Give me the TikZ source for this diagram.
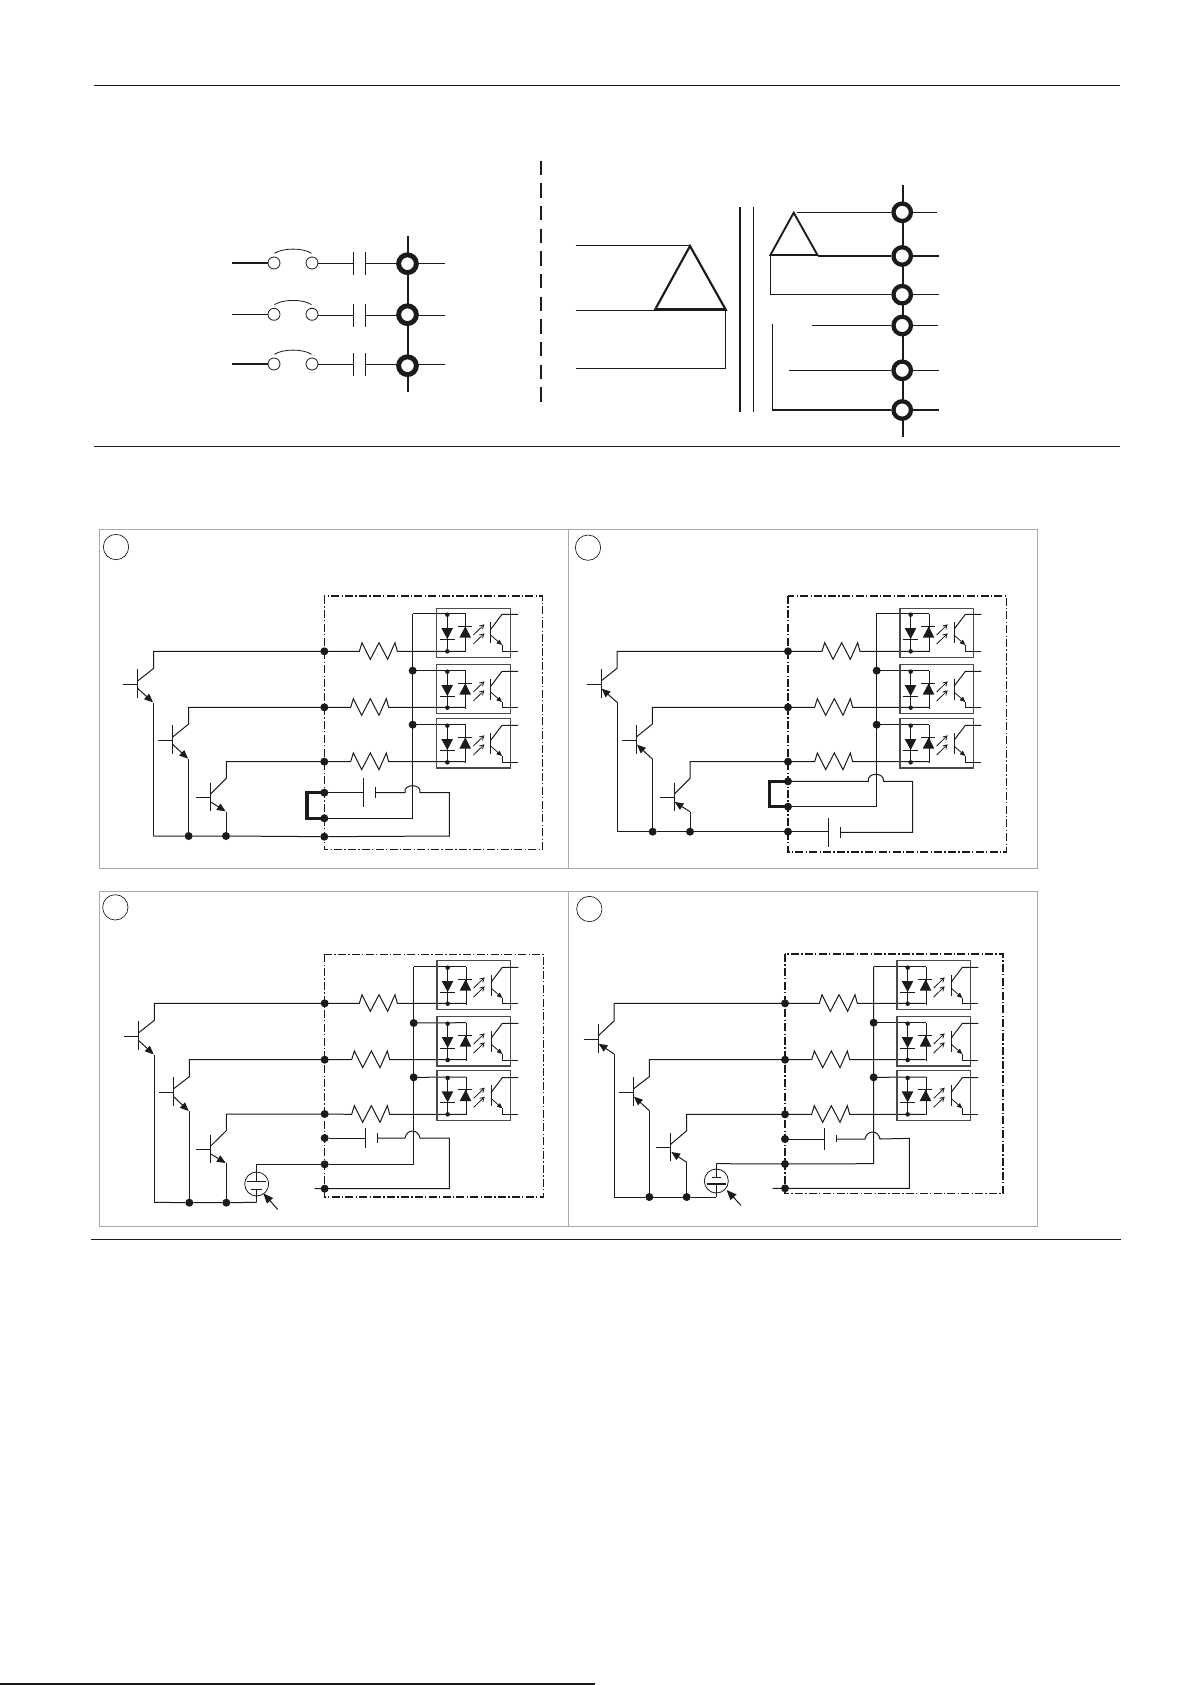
\documentclass[tikz,border=0pt]{standalone}
\usetikzlibrary{arrows.meta}
\definecolor{ink}{HTML}{1C1A1B}
\definecolor{panelgray}{HTML}{ABABAB}
\definecolor{optogray}{HTML}{4A4A4A}
\tikzset{
  wire/.style={draw=ink,line width=0.75pt,line join=miter},
  thin wire/.style={draw=ink,line width=0.6pt},
  thick wire/.style={draw=ink,line width=1.3pt},
  rule/.style={draw=ink,line width=0.85pt},
  ring/.style={circle,draw=ink,fill=white,line width=3.7pt,minimum size=13.3pt,inner sep=0pt},
  ringb/.style={circle,draw=ink,fill=white,line width=3.2pt,minimum size=13.1pt,inner sep=0pt},
  hollow/.style={circle,draw=ink,fill=white,line width=0.6pt,minimum size=9pt,inner sep=0pt},
  jdot/.style={circle,fill=ink,minimum size=6pt,inner sep=0pt,outer sep=0pt},
  sdot/.style={circle,fill=ink,minimum size=3.4pt,inner sep=0pt,outer sep=0pt},
  tag/.style={circle,draw=ink,fill=white,line width=0.5pt,minimum size=19pt,inner sep=0pt},
  panel/.style={draw=panelgray,line width=0.8pt},
  optobox/.style={draw=optogray,line width=0.8pt},
  boundary/.style={draw=ink,line width=0.9pt,dash pattern=on 6pt off 1.7pt on 1pt off 1.7pt},
  etip/.style={-{Triangle[length=6.5pt,width=5.5pt]}},
  otip/.style={-{Triangle[length=4pt,width=3.4pt]}},
  ltip/.style={-{Straight Barb[length=3pt,width=3.5pt]}},
  bigtip/.style={-{Triangle[length=7.5pt,width=6pt]}},
  bracket/.style={draw=ink,line width=2.7pt,line join=miter},
}
% transistor: bar x, base y, collector knee y, emitter knee y, collector dot, emitter target
\newcommand\qframe[5]{%
  \draw[wire] ({#1-43},#2) -- (#1,#2);
  \draw[wire] (#1,{#2-44}) -- (#1,{#2+42});
  \draw[wire] (#1,{#2-9}) -- ({#1+48},#3) |- (#5.center);
}
\newcommand\npnq[6]{%
  \qframe{#1}{#2}{#3}{#4}{#5}
  \draw[wire,etip] (#1,{#2+13}) -- ({#1+46},{#4-1});
  \draw[wire] ({#1+47},#4) |- (#6.center);
}
\newcommand\pnpq[6]{%
  \qframe{#1}{#2}{#3}{#4}{#5}
  \draw[wire,etip] ({#1+48},#4) -- ({#1+2},{#2+14});
  \draw[wire] ({#1+48},#4) |- (#6.center);
}
% resistor row: start dot, zigzag x, y, end x
\newcommand\resist[4]{%
  \draw[wire] (#1.center) -- (#2,#3) -- ++(8,-26) -- ++(25,50) -- ++(26,-50) -- ++(26,50) -- ++(22,-50) -- ++(7,26) -- (#4,#3);
}
% optocoupler: name, dx, top y, height, box top, box bottom, supply node
\newcommand\opto[7]{%
  \draw[wire] (#7.center) -- ({#2+1127},#3);
  \begin{scope}[shift={(#2,#3)}]
    \draw[optobox] (1040,#5) rectangle (1261,#6);
    \node[sdot] (#1a) at (1072,3) {};
    \node[sdot] (#1b) at (1072,#4) {};
    \draw[thin wire] (#1a.center) -- (#1b.center);
    \fill[ink] (1054,43) -- (1089,43) -- (1072,76) -- cycle;
    \draw[thin wire] (1050,76) -- (1094,76);
    \draw[wire] (1127,0) -- (1127,{#4+3});
    \fill[ink] (1108,72) -- (1143,72) -- (1126,38) -- cycle;
    \draw[thin wire] (1104,38) -- (1146,38);
    \draw[thin wire,ltip] (1150,64) -- (1183,32);
    \draw[thin wire,ltip] (1150,91) -- (1183,59);
    \draw[wire] (1202,25) -- (1202,87);
    \draw[wire] (1202,47) -- (1236,2) -- (1284,2);
    \draw[thin wire,otip] (1202,64) -- (1236,94);
    \draw[wire] (1236,94) -- (1236,#4) -- (1284,#4);
  \end{scope}
}
% crossing hump: left end, right end, y
\newcommand\hump[3]{.. controls ({#1+6},{#3-28}) and ({#2-6},{#3-28}) .. (#2,#3)}
% top-left switch row: name, switch y, cap y, style of the feed
\newcommand\swrow[4]{%
  \node[hollow] (#1s) at (274,#2) {};
  \node[hollow] (#1t) at (312,#2) {};
  \coordinate (#1in) at (232,#2);
  \coordinate (#1p) at (353.3,#3);
  \coordinate (#1q) at (365.3,#3);
  \coordinate (#1out) at (444.7,#3);
  \draw[#4] (#1in) -- (#1s);
  \draw[thin wire] (274.5,{#2-9.7}) .. controls (283,{#2-15.3}) and (303,{#2-15.3}) .. (311.5,{#2-9.7});
  \draw[thin wire] (#1t.east |- #1p) -- (#1p);
  \draw[thin wire] (353.3,{#3-11.3}) -- (353.3,{#3+11.3});
  \draw[thin wire] (365.3,{#3-11.3}) -- (365.3,{#3+11.3});
  \draw[thin wire] (#1q) -- (#1out);
}
\begin{document}
\begin{tikzpicture}[x=0.75pt,y=-0.75pt]
\useasboundingbox (0,0) rectangle (1191,1685);
\fill[white] (0,0) rectangle (1191,1685);
% page rules
\coordinate (r1a) at (94,85.3); \coordinate (r1b) at (1120,85.3);
\coordinate (r2a) at (94,446.3); \coordinate (r2b) at (1120,446.3);
\coordinate (r3a) at (91,1239.3); \coordinate (r3b) at (1121,1239.3);
\coordinate (r4a) at (0,1684); \coordinate (r4b) at (595,1684);
\draw[rule] (r1a) -- (r1b);
\draw[rule] (r2a) -- (r2b);
\draw[rule] (r3a) -- (r3b);
\draw[rule,line width=1.2pt] (r4a) -- (r4b);
% --- top-left: switches, capacitors, terminals
\coordinate (lt) at (408,236); \coordinate (lb) at (408,391.7);
\draw[draw=ink,line width=1.35pt] (lt) -- (lb);
\swrow{a}{263}{263.3}{thick wire}
\swrow{b}{314.3}{315.3}{thin wire}
\swrow{c}{364}{364.3}{thick wire}
\node[ring] (L1) at (407.5,263.7) {};
\node[ring] (L2) at (407.5,314.7) {};
\node[ring] (L3) at (407.5,365.7) {};
% --- dashed separator
\coordinate (ds1) at (541,160.7); \coordinate (ds2) at (541,402);
\draw[draw=ink,line width=1.6pt,dash pattern=on 10.7pt off 6.3pt] (ds1) -- (ds2);
% --- top-right: transformer
\coordinate (rt) at (902.6,185.3); \coordinate (rb) at (902.6,437.3);
\draw[draw=ink,line width=1.35pt] (rt) -- (rb);
\coordinate (pa) at (690,246); \coordinate (pl) at (655,309.7); \coordinate (pr) at (725.7,309.7);
\draw[draw=ink,line width=1.6pt,line join=miter] (pa) -- (pl) -- (pr) -- cycle;
\draw[draw=ink,line width=2.2pt] (pl) -- (pr);
\coordinate (pi1) at (575.5,245.6); \coordinate (pi2) at (575.5,310); \coordinate (pi3) at (576,368);
\draw[thin wire] (pi1) -- (pa |- pi1);
\draw[wire] (pi2) -- (pl |- pi2);
\draw[wire] (pr) |- (pi3);
\coordinate (core1a) at (739.9,207.3); \coordinate (core1b) at (739.9,411.7);
\coordinate (core2a) at (753.5,207.3); \coordinate (core2b) at (753.5,411.7);
\draw[draw=ink,line width=1.1pt] (core1a) -- (core1b);
\draw[draw=ink,line width=1.1pt] (core2a) -- (core2b);
\node[ringb] (S1) at (902.2,212.3) {};
\node[ringb] (S2) at (902.2,256) {};
\node[ringb] (S3) at (902.2,294.7) {};
\node[ringb] (S4) at (902.2,325.5) {};
\node[ringb] (S5) at (902.2,370.3) {};
\node[ringb] (S6) at (902.2,410) {};
\coordinate (sa) at (793.7,212.7); \coordinate (sl) at (770.4,255); \coordinate (sr) at (817.5,255);
\draw[draw=ink,line width=1.4pt,line join=miter] (sa) -- (sl) -- (sr) -- cycle;
\draw[thin wire] (796.7,212.3) -- (S1);
\draw[thick wire] (sr |- S2) -- (S2);
\draw[wire] (sl) |- (S3);
\coordinate (s4i) at (811.5,325.5); \coordinate (s5i) at (789,370.3); \coordinate (s6t) at (772.8,324.3);
\draw[thin wire] (s4i) -- (S4);
\draw[thin wire] (s5i) -- (S5);
\draw[wire] (s6t) |- (S6);
\draw[draw=ink,line width=1.1pt] (s6t |- S6) -- (S6);
\coordinate (o1) at (936.5,212.3); \coordinate (o2) at (939.3,256); \coordinate (o3) at (939,294.7);
\coordinate (o4) at (937.7,325.5); \coordinate (o5) at (939,370.3); \coordinate (o6) at (939.3,410);
\draw[thin wire] (S1) -- (o1);
\draw[thick wire] (S2) -- (o2);
\draw[thin wire] (S3) -- (o3);
\draw[thin wire] (S4) -- (o4);
\draw[thin wire] (S5) -- (o5);
\draw[thick wire] (S6) -- (o6);
% --- panel frames
\coordinate (fa) at (99.3,529.7); \coordinate (fb) at (568.3,868.7);
\coordinate (fc) at (1037.3,529.7);
\coordinate (fd) at (99.3,891.7); \coordinate (fe) at (568.3,1226.3); \coordinate (ff) at (1037.3,891.7);
\draw[panel] (fa) rectangle (fb);
\draw[panel] (fb) rectangle (fc);
\draw[panel] (fd) rectangle (fe);
\draw[panel] (fe) rectangle (ff);
%
% ===== Panel A =====
\begin{scope}[x=0.25pt,y=-0.25pt,shift={(270,1560)}]
  \node[tag] (Atag) at (78,81) {};
  \draw[boundary] (703,228) rectangle (1358,989);
  \node[jdot] (A1) at (703,394) {};
  \node[jdot] (A2) at (703,562) {};
  \node[jdot] (A3) at (703,725) {};
  \node[jdot] (A4) at (703,818) {};
  \node[jdot] (A5) at (703,895) {};
  \node[jdot] (A6) at (703,950) {};
  \node[jdot] (At2) at (296,948) {};
  \node[jdot] (At3) at (408,948) {};
  \coordinate (At1) at (190,948);
  \coordinate (Abt) at (968,281);
  \node[jdot] (Ab2) at (968,452) {};
  \node[jdot] (Ab3) at (968,614) {};
  \coordinate (Abb) at (968,895);
  \npnq{143}{492}{445}{548}{A1}{At1}
  \npnq{248}{660}{612}{717}{A2}{At2}
  \npnq{361}{832}{775}{875}{A3}{At3}
  \draw[wire] (At1) -- (At2) -- (At3) -- (A6) -- (1078,948) -- (1078,818) -- (990,818) \hump{990}{945}{818} -- (857,818);
  \draw[wire] (857,800) -- (857,834);
  \draw[wire] (820,775) -- (820,860);
  \draw[wire] (A4) -- (820,818);
  \draw[wire] (A5) -- (Abb) -- (Abt);
  \draw[bracket] (A4.center) -- (651,818) -- (651,895) -- (A5.center);
  \resist{A1}{808}{394}{1127}
  \resist{A2}{782}{562}{1127}
  \resist{A3}{782}{725}{1127}
  \opto{Ao1}{0}{281}{113}{-16}{131}{Abt}
  \opto{Ao2}{0}{452}{111}{-18}{128}{Ab2}
  \opto{Ao3}{0}{614}{113}{-19}{130}{Ab3}
\end{scope}
%
% ===== Panel B =====
\begin{scope}[x=0.25pt,y=-0.25pt,shift={(1680,1560)}]
  \node[tag] (Btag) at (84,83) {};
  \draw[boundary] (684,228) rectangle (1340,996);
  \node[jdot] (B1) at (684,394) {};
  \node[jdot] (B2) at (684,562) {};
  \node[jdot] (B3) at (684,725) {};
  \node[jdot] (B4) at (684,784) {};
  \node[jdot] (B5) at (684,860) {};
  \node[jdot] (B6) at (684,935) {};
  \node[jdot] (Bt2) at (278,935) {};
  \node[jdot] (Bt3) at (390,935) {};
  \coordinate (Bt1) at (172,935);
  \coordinate (Bbt) at (949,281);
  \node[jdot] (Bb2) at (950,452) {};
  \node[jdot] (Bb3) at (950,614) {};
  \coordinate (Bbb) at (949,860);
  \pnpq{123}{492}{445}{547}{B1}{Bt1}
  \pnpq{229}{660}{612}{717}{B2}{Bt2}
  \pnpq{342}{832}{775}{875}{B3}{Bt3}
  \draw[wire] (Bt1) -- (Bt2) -- (Bt3) -- (B6) -- (805,935);
  \draw[wire] (805,895) -- (805,980);
  \draw[wire] (841,922) -- (841,953);
  \draw[wire] (841,937) -- (1058,937) -- (1058,784) -- (970,784) \hump{970}{925}{784} -- (B4.center);
  \draw[wire] (B5) -- (Bbb) -- (Bbt);
  \draw[bracket] (B4.center) -- (628,784) -- (628,860) -- (B5.center);
  \resist{B1}{786}{394}{1107}
  \resist{B2}{764}{562}{1107}
  \resist{B3}{764}{725}{1107}
  \opto{Bo1}{-20}{281}{113}{-16}{131}{Bbt}
  \opto{Bo2}{-20}{452}{111}{-18}{128}{Bb2}
  \opto{Bo3}{-20}{614}{113}{-19}{130}{Bb3}
\end{scope}
%
% ===== Panel C =====
\begin{scope}[x=0.25pt,y=-0.25pt,shift={(270,2640)}]
  \node[tag] (Ctag) at (76,82) {};
  \draw[boundary] (704,223) rectangle (1360,951);
  \node[jdot] (C1) at (704,370) {};
  \node[jdot] (C2) at (704,539) {};
  \node[jdot] (C3) at (704,702) {};
  \node[jdot] (C4) at (704,774) {};
  \node[jdot] (C5) at (704,853) {};
  \node[jdot] (C6) at (704,926) {};
  \node[jdot] (Ct2) at (298,968) {};
  \node[jdot] (Ct3) at (409,968) {};
  \coordinate (Ct1) at (192,967);
  \coordinate (Cbt) at (971,260);
  \node[jdot] (Cb2) at (971,429) {};
  \node[jdot] (Cb3) at (971,592) {};
  \coordinate (Cbb) at (971,853);
  \coordinate (Cs) at (500,967);
  \coordinate (Cw) at (500,853);
  \coordinate (Cx) at (674,926);
  \npnq{145}{468}{421}{524}{C1}{Ct1}
  \npnq{250}{636}{590}{694}{C2}{Ct2}
  \npnq{361}{808}{752}{850}{C3}{Ct3}
  \draw[wire] (Ct1) -- (Ct2) -- (Ct3) -- (Cs);
  \node[circle,draw=ink,line width=0.6pt,minimum size=18pt,inner sep=0pt] (Csrc) at (500,912) {};
  \draw[wire] (Cs) -- (500,927);
  \draw[wire,line width=0.9pt] (Cw) -- (500,905);
  \draw[wire] (472,905) -- (527,905);
  \draw[wire] (484,927) -- (516,927);
  \draw[wire] (Cw) -- (C5) -- (Cbb) -- (Cbt);
  \draw[wire] (C4) -- (827,774);
  \draw[wire] (827,745) -- (827,803);
  \draw[wire] (861,760) -- (861,790);
  \draw[wire] (861,774) -- (945,774) \hump{945}{990}{774} -- (1078,774) -- (1078,926) -- (C6.center) -- (Cx);
  \coordinate (Car) at (563,988);
  \draw[wire,bigtip] (Car) -- (520,940);
  \resist{C1}{808}{370}{1128}
  \resist{C2}{785}{539}{1128}
  \resist{C3}{785}{703}{1128}
  \opto{Co1}{1}{260}{111}{-19}{129}{Cbt}
  \opto{Co2}{1}{428}{112}{-18}{130}{Cb2}
  \opto{Co3}{1}{591}{112}{-19}{130}{Cb3}
\end{scope}
%
% ===== Panel D =====
\begin{scope}[x=0.25pt,y=-0.25pt,shift={(1680,2640)}]
  \node[tag] (Dtag) at (88,87) {};
  \draw[boundary] (675,222) rectangle (1329,941);
  \node[jdot] (D1) at (675,370) {};
  \node[jdot] (D2) at (675,539) {};
  \node[jdot] (D3) at (675,703) {};
  \node[jdot] (D4) at (675,777) {};
  \node[jdot] (D5) at (675,852) {};
  \node[jdot] (D6) at (675,925) {};
  \node[jdot] (Dt2) at (268,951) {};
  \node[jdot] (Dt3) at (380,951) {};
  \coordinate (Dt1) at (162,951);
  \coordinate (Dbt) at (941,260);
  \node[jdot] (Db2) at (941,428) {};
  \node[jdot] (Db3) at (941,592) {};
  \coordinate (Dbb) at (941,851);
  \coordinate (Ds) at (469,951);
  \coordinate (Dw) at (469,851);
  \coordinate (Dx) at (638,925);
  \pnpq{114}{477}{423}{522}{D1}{Dt1}
  \pnpq{220}{636}{590}{692}{D2}{Dt2}
  \pnpq{332}{802}{752}{847}{D3}{Dt3}
  \draw[wire] (Dt1) -- (Dt2) -- (Dt3) -- (Ds);
  \node[circle,draw=ink,line width=0.6pt,minimum size=18pt,inner sep=0pt] (Dsrc) at (469,903) {};
  \draw[wire] (Ds) -- (469,912);
  \draw[wire] (Dw) -- (469,893);
  \draw[wire] (455,893) -- (484,893);
  \draw[wire,line width=1.1pt] (441,912) -- (498,912);
  \draw[wire] (Dw) -- (D5) -- (Dbb) -- (Dbt);
  \draw[wire] (D4) -- (793,777);
  \draw[wire] (793,745) -- (793,810);
  \draw[wire] (830,765) -- (830,787);
  \draw[wire] (830,777) -- (915,777) \hump{915}{960}{777} -- (1048,775) -- (1048,925) -- (D6.center) -- (Dx);
  \coordinate (Dar) at (543,976);
  \draw[wire,bigtip] (Dar) -- (500,930);
  \resist{D1}{778}{370}{1097}
  \resist{D2}{755}{539}{1097}
  \resist{D3}{755}{703}{1097}
  \opto{Do1}{-29}{260}{111}{-19}{129}{Dbt}
  \opto{Do2}{-29}{428}{112}{-18}{130}{Db2}
  \opto{Do3}{-29}{591}{112}{-19}{130}{Db3}
\end{scope}
\end{tikzpicture}
\end{document}
